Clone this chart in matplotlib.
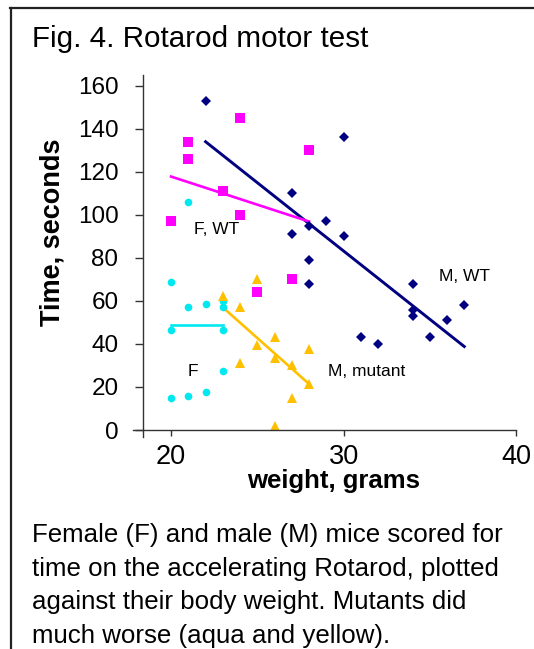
import matplotlib.pyplot as plt
from matplotlib.lines import Line2D

plt.rcParams['font.family'] = ['Liberation Sans', 'DejaVu Sans']

# Male wild type (navy diamonds)
m_wt_x = [22, 30, 27, 29, 28, 27, 30, 28, 28, 34, 34, 34, 37, 36, 35, 31, 32]
m_wt_y = [153, 136, 110, 97, 95, 91, 90, 79, 68, 68, 56, 53, 58, 51, 43, 43, 40]
# Female wild type (magenta squares)
f_wt_x = [24, 21, 21, 23, 24, 20, 28, 27, 25]
f_wt_y = [145, 134, 126, 111, 100, 97, 130, 70, 64]
# Female mutant (aqua circles)
f_mut_x = [21, 20, 21, 22, 23, 23, 20, 23, 23, 20, 21, 22]
f_mut_y = [106, 69, 57, 58.5, 60, 57, 46.5, 46.5, 27.6, 15, 16, 17.8]
# Male mutant (yellow triangles)
m_mut_x = [25, 23, 24, 26, 25, 26, 27, 24, 28, 28, 27, 26]
m_mut_y = [70, 62.5, 57, 43, 39.5, 33.3, 30, 31, 37.5, 21.4, 14.7, 2]

# trend line end points
m_wt_fit_x, m_wt_fit_y = [22, 37], [134, 38.8]
f_wt_fit_x, f_wt_fit_y = [20, 28], [117.8, 96.9]
f_mut_fit_x, f_mut_fit_y = [20, 23], [48.7, 48.7]
m_mut_fit_x, m_mut_fit_y = [23, 28], [57, 21.4]

x_ticks = [20, 30, 40]
y_ticks = [0, 20, 40, 60, 80, 100, 120, 140, 160]

W, H = 534, 649
fig = plt.figure(figsize=(W / 100, H / 100), dpi=100)

# axes box in pixel terms
x0, x1 = 133.3, 516
y_top, y_bot = 75, 436.9
ax = fig.add_axes([x0 / W, 1 - y_bot / H, (x1 - x0) / W, (y_bot - y_top) / H])
ax.set_xlim(17.81, 40)
ax.set_ylim(-3.2, 165)

for s in ['top', 'right']:
    ax.spines[s].set_visible(False)
ax.spines['left'].set_position(('data', 18.4))
ax.spines['bottom'].set_position(('data', 0))
for s in ['left', 'bottom']:
    ax.spines[s].set_color('#333333')
    ax.spines[s].set_linewidth(1.0)

ax.set_xticks(x_ticks)
ax.set_yticks(y_ticks)
ax.tick_params(axis='y', direction='out', length=6, width=1, color='#333333',
               labelsize=17.5, pad=12)
ax.tick_params(axis='x', direction='out', length=4, width=1, color='#333333',
               labelsize=19.5, pad=6)

ax.plot(m_wt_fit_x, m_wt_fit_y, color='#000080', lw=2.1)
ax.plot(f_wt_fit_x, f_wt_fit_y, color='#ff00ff', lw=1.9)
ax.plot(f_mut_fit_x, f_mut_fit_y, color='#00e8f0', lw=1.9)
ax.plot(m_mut_fit_x, m_mut_fit_y, color='#ffc000', lw=1.9)

ax.plot(m_wt_x, m_wt_y, 'D', color='#000080', ms=5.5, mew=0, clip_on=False)
ax.plot(f_wt_x, f_wt_y, 's', color='#ff00ff', ms=7, mew=0, clip_on=False)
ax.plot(f_mut_x, f_mut_y, 'o', color='#00e8f0', ms=5.5, mew=0, clip_on=False)
ax.plot(m_mut_x, m_mut_y, '^', color='#ffc000', ms=7, mew=0, clip_on=False)

ax.text(22.63, 93.2, 'F, WT', fontsize=12.5, ha='center', va='center')
ax.text(37.04, 71.3, 'M, WT', fontsize=12.5, ha='center', va='center')
ax.text(31.36, 27.1, 'M, mutant', fontsize=12.5, ha='center', va='center')
ax.text(21.25, 27.1, 'F', fontsize=12.5, ha='center', va='center')

fig.text(334 / W, 1 - 488 / H, 'weight, grams', fontsize=18.5, fontweight='bold',
         ha='center', va='baseline')
fig.text(53 / W, 1 - 232.5 / H, 'Time, seconds', fontsize=19.5, fontweight='bold',
         rotation=90, ha='center', va='center')

fig.text(32 / W, 1 - 47 / H, 'Fig. 4. Rotarod motor test', fontsize=21.3,
         ha='left', va='baseline')

caption = ['Female (F) and male (M) mice scored for',
           'time on the accelerating Rotarod, plotted',
           'against their body weight. Mutants did',
           'much worse (aqua and yellow).']
for i, line in enumerate(caption):
    fig.text(32 / W, 1 - (542 + 33.7 * i) / H, line, fontsize=18.6,
             ha='left', va='baseline')

# frame lines of the figure panel
fig.add_artist(Line2D([10 / W, 1], [1 - 8 / H, 1 - 8 / H], color='#222222', lw=1.6))
fig.add_artist(Line2D([11 / W, 11 / W], [0, 1 - 8 / H], color='#222222', lw=1.6))

fig.savefig('out.png', dpi=100)
